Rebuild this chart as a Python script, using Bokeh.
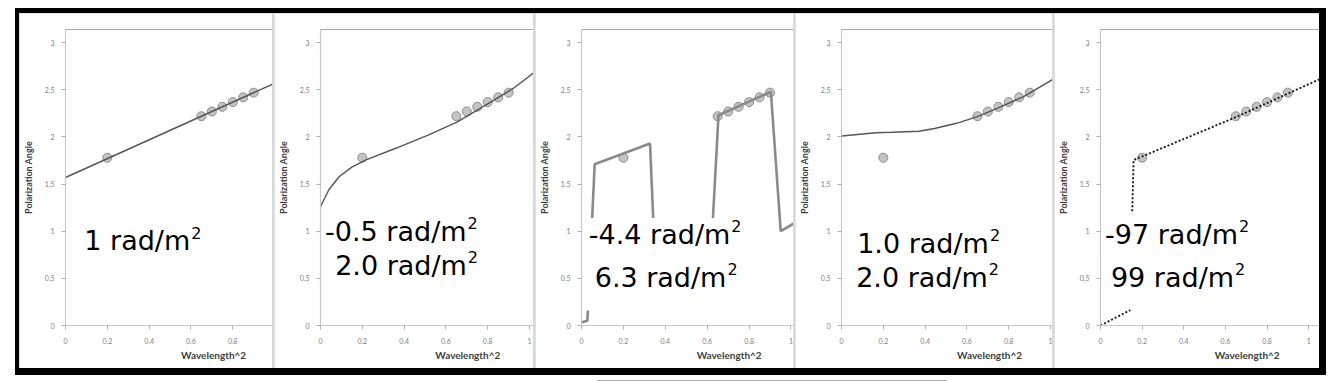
from bokeh.plotting import figure
from bokeh.layouts import row, column, Spacer
from bokeh.models import Label, BoxAnnotation, LinearAxis, FixedTicker, Range1d, Title, Div
from bokeh.embed import file_html
from bokeh.resources import INLINE

nan = float("nan")

# ---- data ----
wl2 = [0.2, 0.65, 0.7, 0.75, 0.8, 0.85, 0.9]
angle = [1.78, 2.22, 2.27, 2.32, 2.37, 2.42, 2.47]

fit1_x = [0.0, 1.0]
fit1_y = [1.57, 2.57]

fit2_x = [0.0, 0.04, 0.09, 0.15, 0.215, 0.36, 0.515, 0.655, 0.83, 0.925, 1.02]
fit2_y = [1.26, 1.44, 1.58, 1.68, 1.755, 1.88, 2.02, 2.16, 2.39, 2.52, 2.68]

fit3_x = [0.0, 0.028, 0.063, 0.327, 0.345, nan, 0.624, 0.654, 0.904, 0.951, 1.012]
fit3_y = [0.035, 0.05, 1.71, 1.93, 1.0, nan, 1.0, 2.23, 2.48, 1.0, 1.08]

fit4_x = [0.0, 0.165, 0.24, 0.37, 0.445, 0.55, 0.65, 0.747, 0.873, 1.01]
fit4_y = [2.01, 2.045, 2.05, 2.06, 2.09, 2.145, 2.216, 2.305, 2.43, 2.61]

fit5_x = [0.0, 0.14, 0.159, 0.65, 0.9, 1.06]
fit5_y = [0.0, 0.16, 1.755, 2.21, 2.46, 2.62]

# rotation-measure annotations: main text + superscript
rm_texts = [
    ["1 rad/m"],
    ["-0.5 rad/m", "2.0 rad/m"],
    ["-4.4 rad/m", "6.3 rad/m"],
    ["1.0 rad/m", "2.0 rad/m"],
    ["-97 rad/m", "99 rad/m"],
]
rm_sup = "2"

xticks = [0, 0.2, 0.4, 0.6, 0.8, 1]
xtick_labels = ["0", "0.2", "0.4", "0.6", "0.8", "1"]
yticks = [0, 0.5, 1, 1.5, 2, 2.5, 3]
ytick_labels = ["0", "0.5", "1", "1.5", "2", "2.5", "3"]

x_title = "Wavelength^2"
y_title = "Polarization Angle"

# ---- layout / style ----
panel_w = [253, 259, 258, 257, 265]
panel_left = [43, 44, 44, 43, 44]
panel_xmax = [0.99, 1.019, 1.012, 1.009, 1.052]
PANEL_H = 355
YMAX = 3.14
XTITLE_CENTER = 0.71
XTITLE_HALF_W = 35

text_pos = [
    [(0.09, 0.90)],
    [(0.022, 1.0), (0.07, 0.64)],
    [(0.035, 0.97), (0.063, 0.51)],
    [(0.075, 0.87), (0.07, 0.51)],
    [(0.022, 0.97), (0.05, 0.51)],
]
masks = [None, None, (0.02, 0.9, 0.16, 1.14), None, (0.02, 0.75, 0.17, 1.19)]

fits = [(fit1_x, fit1_y), (fit2_x, fit2_y), (fit3_x, fit3_y), (fit4_x, fit4_y), (fit5_x, fit5_y)]
line_styles = [
    dict(line_color="#555555", line_width=1.4),
    dict(line_color="#555555", line_width=1.4),
    dict(line_color="#8a8a8a", line_width=2.6),
    dict(line_color="#555555", line_width=1.4),
    dict(line_color="#1a1a1a", line_width=1.9, line_dash="2 2"),
]

TICK_FONT = "Lato"
TITLE_FONT = "Lato"
BIG_FONT = "DejaVu Sans"
BIG_SIZE = 27
SUP_SIZE = 16
# DejaVu Sans advance widths (fraction of em) for measuring the main text
ADV = {"-": 0.361, ".": 0.318, " ": 0.318, "r": 0.411, "a": 0.613,
       "d": 0.635, "/": 0.337, "m": 0.974}


def text_w(s, size):
    return sum(ADV.get(c, 0.636) for c in s) * size


def make_panel(i):
    p = figure(width=panel_w[i], height=PANEL_H,
               x_range=Range1d(0, panel_xmax[i]), y_range=Range1d(0, YMAX),
               output_backend="svg", toolbar_location=None,
               min_border_left=panel_left[i], min_border_right=0,
               min_border_top=16, min_border_bottom=43)
    p.background_fill_color = "white"
    p.border_fill_color = "white"
    p.outline_line_color = None
    p.grid.visible = False

    p.xaxis.ticker = FixedTicker(ticks=xticks)
    p.xaxis.major_label_overrides = dict(zip(xticks, xtick_labels))
    p.yaxis.ticker = FixedTicker(ticks=yticks)
    p.yaxis.major_label_overrides = dict(zip(yticks, ytick_labels))
    for ax in (p.xaxis[0], p.yaxis[0]):
        ax.axis_line_color = "#c8c8c8"
        ax.axis_line_width = 1.2
        ax.major_tick_line_color = "#b0b0b0"
        ax.major_tick_out = 4
        ax.major_tick_in = 0
        ax.minor_tick_out = 0
        ax.minor_tick_in = 0
        ax.major_label_text_font = TICK_FONT
        ax.major_label_text_font_size = "7px"
        ax.major_label_text_color = "#808080"
    p.xaxis.major_label_standoff = 8
    p.yaxis.major_label_standoff = 7
    p.yaxis.axis_label = y_title
    p.yaxis.axis_label_text_font = TITLE_FONT
    p.yaxis.axis_label_text_font_size = "9px"
    p.yaxis.axis_label_text_font_style = "bold"
    p.yaxis.axis_label_text_color = "#404040"
    p.yaxis.axis_label_standoff = 8

    top = LinearAxis(ticker=FixedTicker(ticks=[]), axis_line_color="#a8a8a8",
                     axis_line_width=1.2, major_tick_out=0, major_tick_in=0,
                     minor_tick_out=0, minor_tick_in=0,
                     major_label_text_font_size="0px")
    p.add_layout(top, "above")

    # x-axis title, placed right of the frame centre as in the reference
    frame_w = panel_w[i] - panel_left[i]
    ppu = frame_w / panel_xmax[i]
    shift = XTITLE_CENTER * ppu - XTITLE_HALF_W
    p.add_layout(Title(text=x_title, align="left", offset=shift, standoff=0,
                       text_font=TITLE_FONT, text_font_size="10px",
                       text_font_style="bold", text_color="#404040"), "below")

    # data points, then model line on top
    p.scatter(wl2, angle, size=9, marker="circle", fill_color="#c4c4c4",
              line_color="#8c8c8c", line_width=1)
    fx, fy = fits[i]
    p.line(fx, fy, **line_styles[i])

    if masks[i] is not None:
        l, r, b, t = masks[i]
        p.add_layout(BoxAnnotation(left=l, right=r, bottom=b, top=t,
                                   fill_color="white", fill_alpha=1.0,
                                   line_color=None))

    raise_px = 0.73 * (BIG_SIZE - SUP_SIZE)
    for txt, (tx, ty) in zip(rm_texts[i], text_pos[i]):
        p.add_layout(Label(x=tx, y=ty, text=txt, text_font=BIG_FONT,
                           text_font_size=f"{BIG_SIZE}px", text_color="black",
                           text_baseline="alphabetic", text_align="left"))
        p.add_layout(Label(x=tx, y=ty, x_offset=text_w(txt, BIG_SIZE) + 1,
                           y_offset=raise_px, text=rm_sup, text_font=BIG_FONT,
                           text_font_size=f"{SUP_SIZE}px", text_color="black",
                           text_baseline="alphabetic", text_align="left"))
    return p


panels = [make_panel(i) for i in range(5)]
inner = row(*panels, spacing=2, styles={"background-color": "#d9d9d9"})
inner_w = sum(panel_w) + 2 * 4
framed_w = 4 + inner_w + 7
framed = column(
    Spacer(width=framed_w, height=5),
    row(Spacer(width=4, height=PANEL_H), inner, Spacer(width=7, height=PANEL_H)),
    Spacer(width=framed_w, height=7),
    styles={"background-color": "black"},
)
shadow = Div(text="", width=350, height=6,
             styles={"background": "linear-gradient(to bottom, #a8a8a8, #f4f4f4)"})
root = column(
    Spacer(width=15 + framed_w, height=8),
    row(Spacer(width=15, height=PANEL_H + 12), framed),
    row(Spacer(width=592, height=6), shadow),
)

open("out.html", "w").write(file_html(root, INLINE))
